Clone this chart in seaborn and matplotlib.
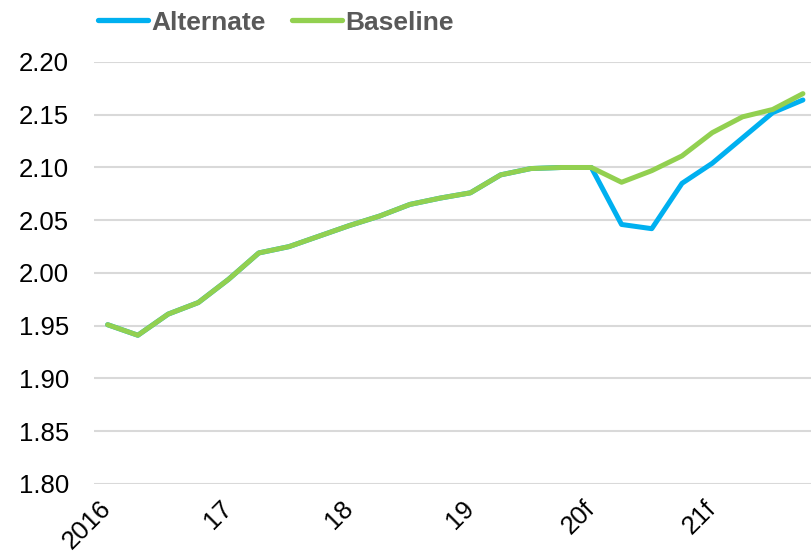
import pandas as pd
import matplotlib.pyplot as plt
import seaborn as sns

# ----------------------------
# Data (quarterly, 2016Q1 - 2021Q4)
# ----------------------------

quarters = [f"{y}Q{q}" for y in range(2016, 2022) for q in range(1, 5)]

alternate = [1.951, 1.941, 1.961, 1.972, 1.994, 2.019, 2.025, 2.035,
             2.045, 2.054, 2.065, 2.071, 2.076, 2.093, 2.099, 2.100,
             2.100, 2.046, 2.042, 2.085, 2.104, 2.128, 2.152, 2.164]

baseline = [1.951, 1.941, 1.961, 1.972, 1.994, 2.019, 2.025, 2.035,
            2.045, 2.054, 2.065, 2.071, 2.076, 2.093, 2.099, 2.100,
            2.100, 2.086, 2.097, 2.111, 2.133, 2.148, 2.155, 2.170]

tick_labels = ["2016", "17", "18", "19", "20f", "21f"]
y_ticks = [1.80, 1.85, 1.90, 1.95, 2.00, 2.05, 2.10, 2.15, 2.20]

df = pd.DataFrame({
    "idx": list(range(len(quarters))) * 2,
    "value": alternate + baseline,
    "series": ["Alternate"] * len(quarters) + ["Baseline"] * len(quarters),
})

# ----------------------------
# Plot
# ----------------------------

sns.set_style("white")
plt.rcParams["font.family"] = ["Liberation Sans", "DejaVu Sans"]

fig = plt.figure(figsize=(8.12, 5.56), dpi=100)
ax = fig.add_axes([0.1158, 0.1295, 0.8842, 0.759])

sns.lineplot(data=df, x="idx", y="value", hue="series",
             hue_order=["Alternate", "Baseline"],
             palette={"Alternate": "#00B0F0", "Baseline": "#92D050"},
             linewidth=3.6, ax=ax)

ax.set_xlim(-0.45, 23.3)
ax.set_ylim(1.80, 2.20)
ax.set_yticks(y_ticks)
ax.set_yticklabels([f"{v:.2f}" for v in y_ticks])
ax.set_xticks(range(0, len(quarters), 4))
ax.set_xticklabels(tick_labels, rotation=45, ha="right", va="center",
                   rotation_mode="anchor")
ax.tick_params(axis="y", length=0, pad=18, labelsize=18.5, labelcolor="black")
ax.tick_params(axis="x", length=0, pad=15, labelsize=18.5, labelcolor="black")
ax.set_xlabel("")
ax.set_ylabel("")

ax.yaxis.grid(True, color="#d9d9d9", linewidth=1.5)
ax.xaxis.grid(False)
ax.set_axisbelow(True)
for s in ax.spines.values():
    s.set_visible(False)

leg = ax.legend(loc="upper left", bbox_to_anchor=(0.005, 1.122), ncol=2,
                frameon=False, borderaxespad=0, borderpad=0,
                handlelength=1.9, handletextpad=0.12,
                columnspacing=1.0, prop={"weight": "bold", "size": 19})
for t in leg.get_texts():
    t.set_color("#595959")
for h in leg.get_lines():
    h.set_linewidth(3.8)
    h.set_solid_capstyle("round")

fig.savefig("out.png", dpi=100)
plt.close()
